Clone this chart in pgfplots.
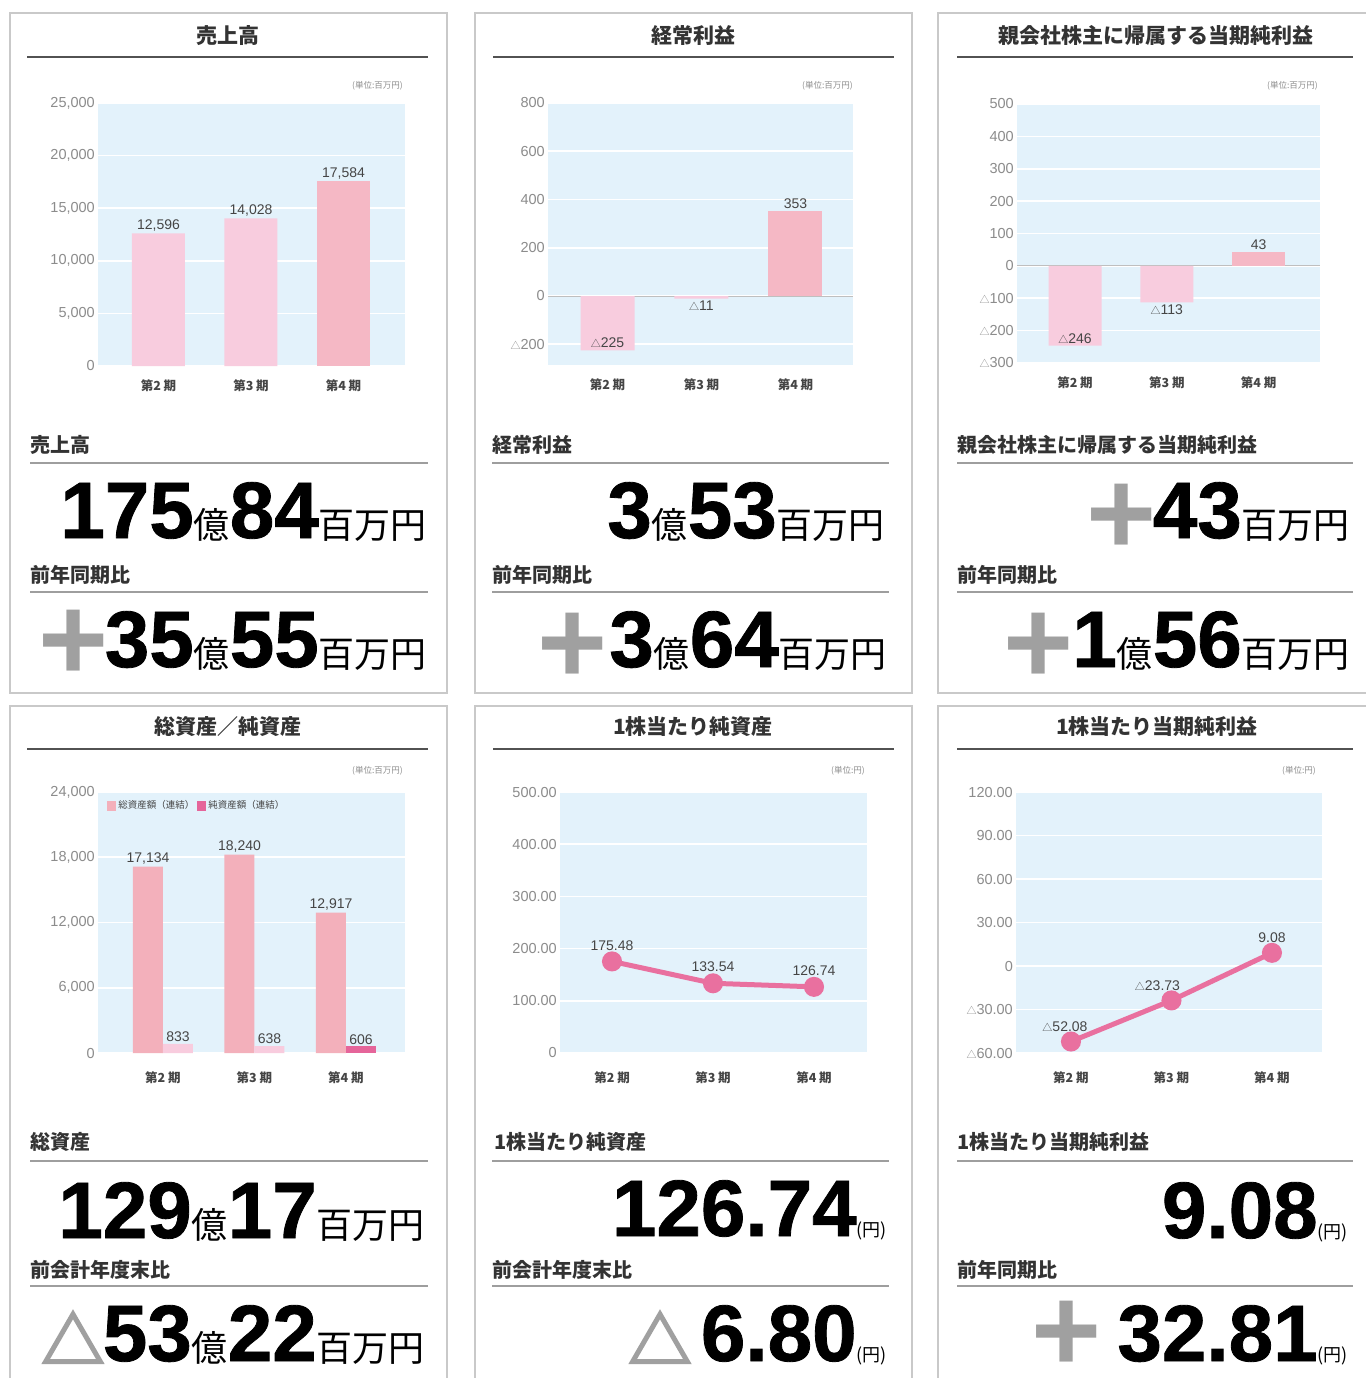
\documentclass[border=0pt]{standalone}
\usepackage{fontspec}
\usepackage{graphicx}
\usepackage{pgfplots}
\pgfplotsset{compat=1.18}
\setmainfont{Liberation Sans}
\newfontfamily\jp{Noto Sans CJK JP}
\newfontfamily\num{Liberation Sans}
\newfontfamily\bnum[FakeBold=1]{Liberation Sans}
\newfontfamily\symf[FakeBold=3]{Noto Sans CJK JP}

\definecolor{bgblue}{HTML}{E3F2FB}
\definecolor{lpink}{HTML}{F8CCDE}
\definecolor{mpink}{HTML}{F5B8C5}
\definecolor{tpink}{HTML}{F3B0BB}
\definecolor{dpink}{HTML}{E5659A}
\definecolor{lineink}{HTML}{E9709F}
\definecolor{tickgray}{HTML}{8C8C8C}
\definecolor{lblgray}{HTML}{454545}
\definecolor{titlegray}{HTML}{333333}
\definecolor{rulegray}{HTML}{9E9E9E}
\definecolor{bordergray}{HTML}{C9C9C9}
\definecolor{plusgray}{HTML}{A0A0A0}

\newcommand\BN[1]{{\bnum\bfseries\fontsize{80}{80}\selectfont #1}}
\newcommand\KU[1]{{\jp\mdseries\fontsize{36}{36}\selectfont #1}}
\newcommand\EN{{\jp\mdseries\fontsize{18}{18}\selectfont (円)}}
\newcommand\PL{{\num\bfseries\fontsize{120}{120}\selectfont +}}
\newcommand\TRI{{\symf\bfseries\fontsize{64}{64}\selectfont △}}
\newcommand\tri{{\jp\fontsize{10}{10}\selectfont △}}

\pgfplotsset{
  panel/.style={
    scale only axis, anchor=north west,
    axis background/.style={fill=bgblue},
    axis line style={draw=none},
    major tick length=0pt,
    scaled y ticks=false,
    ymajorgrids, grid style={white, line width=1.6pt},
    xtick={0,1,2}, xticklabels={第2 期,第3 期,第4 期},
    xticklabel style={font=\jp\bfseries\fontsize{12.5}{12.5}\selectfont, text=lblgray},
    yticklabel style={font=\num\fontsize{14.5}{14.5}\selectfont, text=tickgray, inner sep=1pt, xshift=-2pt},
    /pgf/number format/assume math mode=true,
    clip=false,
  },
  bars/.style={ybar, bar shift=0pt, draw=none},
}
\tikzset{
  ttl/.style={font=\jp\bfseries\fontsize{21}{21}\selectfont, text=titlegray, inner sep=0pt},
  sec/.style={font=\jp\bfseries\fontsize{20}{20}\selectfont, text=titlegray, inner sep=0pt, anchor=west},
  dl/.style={font=\num\fontsize{14}{14}\selectfont, text=lblgray, inner sep=2pt},
  unit/.style={font=\jp\fontsize{8.5}{8.5}\selectfont, text=tickgray, inner sep=0pt, anchor=east},
  bigl/.style={anchor=base east, inner sep=0pt},
  sym/.style={anchor=base, inner sep=0pt, text=plusgray},
}

\begin{document}
\begin{tikzpicture}[x=1pt,y=-1pt]
\useasboundingbox (0,0) rectangle (1365,1378);
\fill[white] (0,0) rectangle (1365,1378);

% panel borders
\draw[bordergray, line width=2pt] (10,13) rectangle (447,693);
\draw[bordergray, line width=2pt] (475,13) rectangle (912,693);
\draw[bordergray, line width=2pt] (938,13) rectangle (1368,693);
\draw[bordergray, line width=2pt] (10,706) rectangle (447,1390);
\draw[bordergray, line width=2pt] (475,706) rectangle (912,1390);
\draw[bordergray, line width=2pt] (938,706) rectangle (1368,1390);

% titles
\node[ttl] at (228,36) {売上高};
\node[ttl] at (693,36) {経常利益};
\node[ttl] at (1156,36) {親会社株主に帰属する当期純利益};
\node[ttl] at (228,727) {総資産／純資産};
\node[ttl] at (693,727) {1株当たり純資産};
\node[ttl] at (1157,727) {1株当たり当期純利益};
\draw[titlegray!85, line width=1.8pt] (27,57) -- (428,57);
\draw[titlegray!85, line width=1.8pt] (493,57) -- (894,57);
\draw[titlegray!85, line width=1.8pt] (957,57) -- (1353,57);
\draw[titlegray!85, line width=1.8pt] (27,749) -- (428,749);
\draw[titlegray!85, line width=1.8pt] (493,749) -- (894,749);
\draw[titlegray!85, line width=1.8pt] (957,749) -- (1353,749);

% unit labels
\node[unit] at (403,86) {(単位:百万円)};
\node[unit] at (853,86) {(単位:百万円)};
\node[unit] at (1318,86) {(単位:百万円)};
\node[unit] at (403,771) {(単位:百万円)};
\node[unit] at (865,771) {(単位:円)};
\node[unit] at (1316,771) {(単位:円)};

% ---------- Panel 1: sales
\begin{axis}[panel, at={(98pt,-103pt)}, width=307pt, height=263pt,
  xmin=-0.654, xmax=2.665, ymin=0, ymax=25000,
  ytick={0,5000,10000,15000,20000,25000},
  yticklabels={0,{5,000},{10,000},{15,000},{20,000},{25,000}},
  xticklabel style={yshift=-10pt}]
\addplot[bars, bar width=53pt, fill=lpink] coordinates {(0,12596) (1,14028)};
\addplot[bars, bar width=53pt, fill=mpink] coordinates {(2,17584)};
\node[dl, above] at (axis cs:0,12596) {12,596};
\node[dl, above] at (axis cs:1,14028) {14,028};
\node[dl, above] at (axis cs:2,17584) {17,584};
\end{axis}

% ---------- Panel 2: ordinary income
\begin{axis}[panel, at={(548pt,-103pt)}, width=305pt, height=262pt,
  xmin=-0.633, xmax=2.612, ymin=-286, ymax=800,
  ytick={-200,0,200,400,600,800},
  yticklabels={\tri200,0,200,400,600,800},
  extra y ticks={0}, extra y tick labels={},
  extra y tick style={grid style={black!25, line width=1pt}},
  xticklabel style={yshift=-10pt}]
\addplot[bars, bar width=54pt, fill=lpink] coordinates {(0,-225) (1,-11)};
\addplot[bars, bar width=54pt, fill=mpink] coordinates {(2,353)};
\node[dl, above] at (axis cs:0,-225) {\tri225};
\node[dl, below] at (axis cs:1,-11) {\tri11};
\node[dl, above] at (axis cs:2,353) {353};
\end{axis}

% ---------- Panel 3: net income
\begin{axis}[panel, at={(1017pt,-104pt)}, width=303pt, height=259pt,
  xmin=-0.632, xmax=2.670, ymin=-300, ymax=500,
  ytick={-300,-200,-100,0,100,200,300,400,500},
  yticklabels={\tri300,\tri200,\tri100,0,100,200,300,400,500},
  extra y ticks={0}, extra y tick labels={},
  extra y tick style={grid style={black!25, line width=1pt}},
  xticklabel style={yshift=-10pt}]
\addplot[bars, bar width=53pt, fill=lpink] coordinates {(0,-246) (1,-113)};
\addplot[bars, bar width=53pt, fill=mpink] coordinates {(2,43)};
\node[dl, above] at (axis cs:0,-246) {\tri246};
\node[dl, below] at (axis cs:1,-113) {\tri113};
\node[dl, above] at (axis cs:2,43) {43};
\end{axis}

% ---------- Panel 4: total / net assets
\begin{axis}[panel, at={(98pt,-792pt)}, width=307pt, height=261pt,
  xmin=-0.710, xmax=2.645, ymin=0, ymax=24000,
  ytick={0,6000,12000,18000,24000},
  yticklabels={0,{6,000},{12,000},{18,000},{24,000}},
  xticklabel style={yshift=-15pt},
  legend style={at={(0.03,0.975)}, anchor=north west, draw=none, fill=none,
    legend columns=2, font=\jp\fontsize{9.5}{9.5}\selectfont, text=lblgray,
    inner sep=0pt, column sep=1pt,
    /tikz/every odd column/.append style={column sep=0pt}},
  legend cell align=left]
\addplot[bars, bar width=30pt, bar shift=-15pt, fill=tpink,
  legend image code/.code={\fill[tpink] (0pt,-5pt) rectangle (9pt,5pt);}]
  coordinates {(0,17134) (1,18240) (2,12917)};
\addlegendentry{総資産額（連結）}
\addplot[bars, bar width=30pt, bar shift=15pt, fill=dpink,
  legend image code/.code={\fill[dpink] (0pt,-5pt) rectangle (9pt,5pt);}]
  coordinates {(2,606)};
\addlegendentry{純資産額（連結）}
\addplot[bars, bar width=30pt, bar shift=15pt, fill=lpink, forget plot]
  coordinates {(0,833) (1,638)};
\node[dl, above] at (axis cs:-0.164,17134) {17,134};
\node[dl, above] at (axis cs:0.836,18240) {18,240};
\node[dl, above] at (axis cs:1.836,12917) {12,917};
\node[dl, above] at (axis cs:0.164,833) {833};
\node[dl, above] at (axis cs:1.164,638) {638};
\node[dl, above] at (axis cs:2.164,606) {606};
\end{axis}

% ---------- Panel 5: BPS
\begin{axis}[panel, at={(560pt,-792pt)}, width=307pt, height=261pt,
  xmin=-0.515, xmax=2.525, ymin=0, ymax=500,
  ytick={0,100,200,300,400,500},
  yticklabels={0,100.00,200.00,300.00,400.00,500.00},
  xticklabel style={yshift=-15pt}]
\addplot[lineink, line width=5pt, mark=*, mark size=7.5pt,
  mark options={draw=none, fill=lineink}]
  coordinates {(0,175.48) (1,133.54) (2,126.74)};
\node[dl, above=9pt] at (axis cs:0,175.48) {175.48};
\node[dl, above=9pt] at (axis cs:1,133.54) {133.54};
\node[dl, above=9pt] at (axis cs:2,126.74) {126.74};
\end{axis}

% ---------- Panel 6: EPS
\begin{axis}[panel, at={(1016pt,-792pt)}, width=306pt, height=261pt,
  xmin=-0.547, xmax=2.498, ymin=-60, ymax=120,
  ytick={-60,-30,0,30,60,90,120},
  yticklabels={\tri60.00,\tri30.00,0,30.00,60.00,90.00,120.00},
  xticklabel style={yshift=-15pt}]
\addplot[lineink, line width=5pt, mark=*, mark size=7.5pt,
  mark options={draw=none, fill=lineink}]
  coordinates {(0,-52.08) (1,-23.73) (2,9.08)};
\node[dl, above=8pt, xshift=-6pt] at (axis cs:0,-52.08) {\tri52.08};
\node[dl, above=8pt, xshift=-14pt] at (axis cs:1,-23.73) {\tri23.73};
\node[dl, above=8pt] at (axis cs:2,9.08) {9.08};
\end{axis}

% ---------- lower texts, row 1
\node[sec] at (30,445) {売上高};
\node[sec] at (492,445) {経常利益};
\node[sec] at (957,445) {親会社株主に帰属する当期純利益};
\draw[rulegray, line width=1.5pt] (30,463) -- (428,463);
\draw[rulegray, line width=1.5pt] (492,463) -- (889,463);
\draw[rulegray, line width=1.5pt] (957,463) -- (1353,463);
\node[bigl] at (427,538) {\BN{175}\KU{億}\BN{84}\KU{百万円}};
\node[bigl] at (885,538) {\BN{3}\KU{億}\BN{53}\KU{百万円}};
\node[bigl] at (1350,538) {\BN{43}\KU{百万円}};
\node[sym] at (1122,554) {\PL};

\node[sec] at (30,575) {前年同期比};
\node[sec] at (492,575) {前年同期比};
\node[sec] at (957,575) {前年同期比};
\draw[rulegray, line width=1.5pt] (30,592) -- (428,592);
\draw[rulegray, line width=1.5pt] (492,592) -- (889,592);
\draw[rulegray, line width=1.5pt] (957,592) -- (1353,592);
\node[bigl] at (427,667) {\BN{35}\KU{億}\BN{55}\KU{百万円}};
\node[bigl] at (887,667) {\BN{3}\KU{億}\BN{64}\KU{百万円}};
\node[bigl] at (1350,667) {\BN{1}\KU{億}\BN{56}\KU{百万円}};
\node[sym] at (74,680) {\PL};
\node[sym] at (573,683) {\PL};
\node[sym] at (1039,683) {\PL};

% ---------- lower texts, row 2
\node[sec] at (30,1142) {総資産};
\node[sec] at (494,1142) {1株当たり純資産};
\node[sec] at (957,1142) {1株当たり当期純利益};
\draw[rulegray, line width=1.5pt] (30,1161) -- (428,1161);
\draw[rulegray, line width=1.5pt] (492,1161) -- (889,1161);
\draw[rulegray, line width=1.5pt] (957,1161) -- (1353,1161);
\node[bigl] at (425,1238) {\BN{129}\KU{億}\BN{17}\KU{百万円}};
\node[bigl] at (887,1236) {\BN{126.74}\EN};
\node[bigl] at (1348,1238) {\BN{9.08}\EN};

\node[sec] at (30,1270) {前会計年度末比};
\node[sec] at (492,1270) {前会計年度末比};
\node[sec] at (957,1270) {前年同期比};
\draw[rulegray, line width=1.5pt] (30,1286) -- (428,1286);
\draw[rulegray, line width=1.5pt] (492,1286) -- (889,1286);
\draw[rulegray, line width=1.5pt] (957,1286) -- (1353,1286);
\node[bigl] at (425,1361) {\BN{53}\KU{億}\BN{22}\KU{百万円}};
\node[bigl] at (887,1361) {\BN{6.80}\EN};
\node[bigl] at (1348,1361) {\BN{32.81}\EN};
\node[sym] at (73,1364) {\TRI};
\node[sym] at (660,1364) {\TRI};
\node[sym] at (1067,1371) {\PL};
\end{tikzpicture}
\end{document}
